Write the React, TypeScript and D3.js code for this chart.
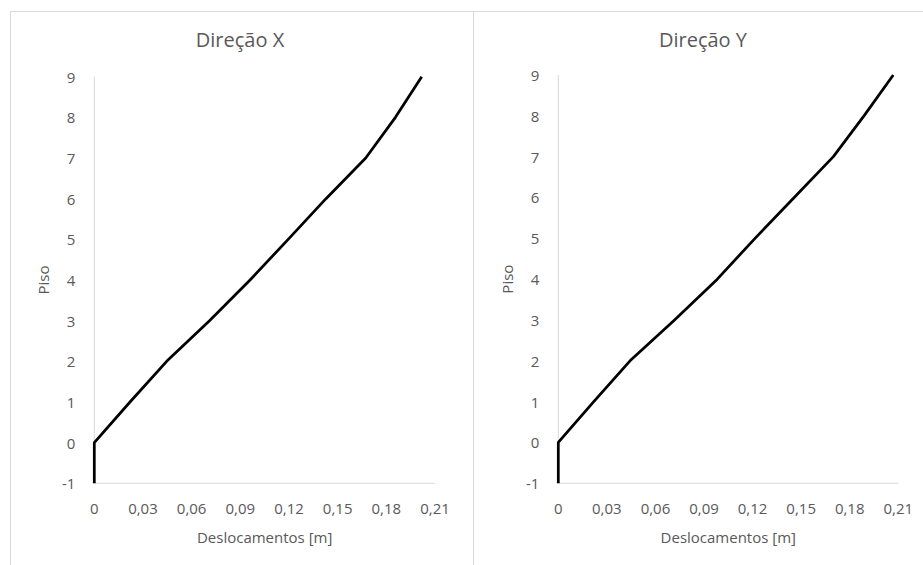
import React from "react";
import * as d3 from "d3";

const floors = [-1, 0, 1, 2, 3, 4, 5, 6, 7, 8, 9];
const dispX = [0, 0, 0.022, 0.0446, 0.071, 0.096, 0.1195, 0.1428, 0.1673, 0.1856, 0.2018];
const dispY = [0, 0, 0.0219, 0.0443, 0.0718, 0.0982, 0.1215, 0.1457, 0.1699, 0.1888, 0.2069];
const xTicks = [0, 0.03, 0.06, 0.09, 0.12, 0.15, 0.18, 0.21];
const yTicks = [-1, 0, 1, 2, 3, 4, 5, 6, 7, 8, 9];
const titles = ["Direção X", "Direção Y"];
const xTitle = "Deslocamentos [m]";
const yTitle = "Piso";

const FONT = "'Open Sans', sans-serif";
const TXT = "#595959";
const GRID = "#d9d9d9";

type PanelProps = {
  title: string;
  values: number[];
  x0: number;
  x1: number;
  yTop: number;
  yBot: number;
  titleX: number;
};

function Panel({ title, values, x0, x1, yTop, yBot, titleX }: PanelProps) {
  const x = d3.scaleLinear().domain([0, 0.21]).range([x0, x1]);
  const y = d3.scaleLinear().domain([-1, 9]).range([yBot, yTop]);
  const line = d3
    .line<number>()
    .x((d) => x(d))
    .y((_, i) => y(floors[i]));
  const fmt = (v: number) => (v === 0 ? "0" : d3.format(".2f")(v).replace(".", ","));
  return (
    <g>
      <text x={titleX} y={39} textAnchor="middle" dominantBaseline="central" fontFamily={FONT} fontSize={20} fill={TXT}>
        {title}
      </text>
      <line x1={x0} x2={x0} y1={yTop} y2={yBot} stroke={GRID} strokeWidth={1} />
      <line x1={x0} x2={x1} y1={yBot} y2={yBot} stroke={GRID} strokeWidth={1} />
      {yTicks.map((t) => (
        <text key={"y" + t} x={x0 - 19} y={y(t)} textAnchor="end" dominantBaseline="central" fontFamily={FONT} fontSize={15} fill={TXT}>
          {t}
        </text>
      ))}
      {xTicks.map((t) => (
        <text key={"x" + t} x={x(t)} y={508} textAnchor="middle" dominantBaseline="central" fontFamily={FONT} fontSize={15} fill={TXT}>
          {fmt(t)}
        </text>
      ))}
      <text x={(x0 + x1) / 2} y={537} textAnchor="middle" dominantBaseline="central" fontFamily={FONT} fontSize={15} fill={TXT}>
        {xTitle}
      </text>
      <text
        transform={`translate(${x0 - 51},${(yTop + yBot) / 2}) rotate(-90)`}
        textAnchor="middle"
        dominantBaseline="central"
        fontFamily={FONT}
        fontSize={15}
        fill={TXT}
      >
        {yTitle}
      </text>
      <path d={line(values) || ""} fill="none" stroke="#000" strokeWidth={2.75} strokeLinejoin="round" />
    </g>
  );
}

export default function App() {
  return (
    <div style={{ position: "fixed", left: 0, top: 0 }}>
      <svg width={923} height={565} style={{ display: "block", background: "#fff" }}>
        <rect x={0} y={0} width={923} height={565} fill="#fff" />
        <line x1={10.5} x2={10.5} y1={11} y2={565} stroke={GRID} />
        <line x1={10} x2={923} y1={11.5} y2={11.5} stroke={GRID} />
        <line x1={473.5} x2={473.5} y1={11} y2={565} stroke={GRID} />
        <Panel title={titles[0]} values={dispX} x0={94.3} x1={435} yTop={76.7} yBot={483.3} titleX={240} />
        <Panel title={titles[1]} values={dispY} x0={558.3} x1={898.3} yTop={75} yBot={483.3} titleX={703} />
      </svg>
    </div>
  );
}
